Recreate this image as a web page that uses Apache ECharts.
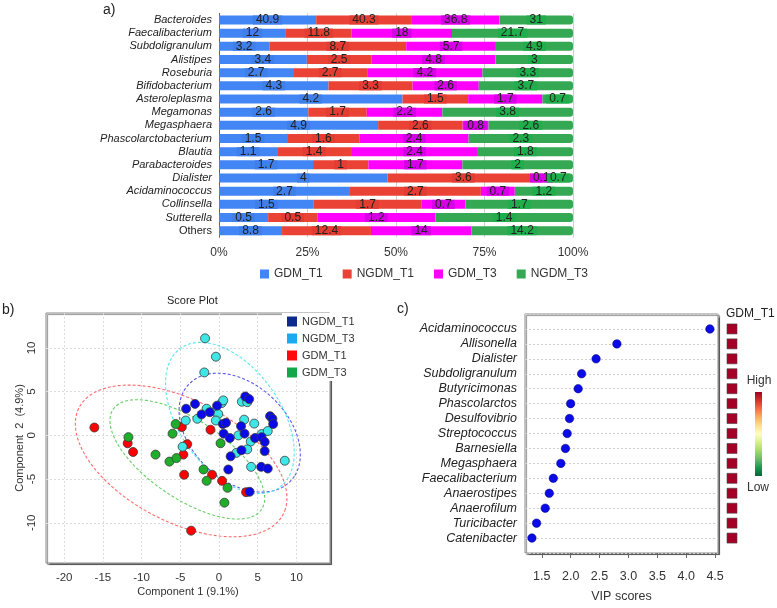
<!DOCTYPE html>
<html><head><meta charset="utf-8">
<script src="https://cdn.jsdelivr.net/npm/echarts@6/dist/echarts.min.js"></script>
<style>html,body{margin:0;padding:0;background:#fff}#c{width:777px;height:608px}</style>
</head><body><div id="c"></div>
<script>
// ---------- Panel a: relative abundance ----------
const genera = ['Bacteroides','Faecalibacterium','Subdoligranulum','Alistipes','Roseburia','Bifidobacterium','Asteroleplasma','Megamonas','Megasphaera','Phascolarctobacterium','Blautia','Parabacteroides','Dialister','Acidaminococcus','Collinsella','Sutterella','Others'];
const gdmT1  = [40.9, 12, 3.2, 3.4, 2.7, 4.3, 4.2, 2.6, 4.9, 1.5, 1.1, 1.7, 4, 2.7, 1.5, 0.5, 8.8];
const ngdmT1 = [40.3, 11.8, 8.7, 2.5, 2.7, 3.3, 1.5, 1.7, 2.6, 1.6, 1.4, 1, 3.6, 2.7, 1.7, 0.5, 12.4];
const gdmT3  = [36.8, 18, 5.7, 4.8, 4.2, 2.6, 1.7, 2.2, 0.8, 2.4, 2.4, 1.7, 0.1, 0.7, 0.7, 1.2, 14];
const ngdmT3 = [31, 21.7, 4.9, 3, 3.3, 3.7, 0.7, 3.8, 2.6, 2.3, 1.8, 2, 0.7, 1.2, 1.7, 1.4, 14.2];
const pctTicks = [0, 25, 50, 75, 100];

// ---------- Panel b: PLS-DA score plot ----------
const scoreNGDM_T1 = [[-4.25,3.05],[-3.1,3.6],[-2.25,2.4],[-1.2,2.65],[-0.25,3.4],[3.4,4.45],[3.9,4.15],[0.5,1.3],[0.9,1.45],[2.85,1.05],[6.6,2.2],[6.9,1.9],[7.0,1.3],[0.6,0.2],[1.4,-0.3],[3.3,0.2],[4.65,-0.3],[5.5,-0.2],[5.9,-0.75],[5.9,-1.8],[2.9,-1.7],[1.5,-2.4],[1.2,-3.9],[5.45,-3.6],[6.3,-3.8],[3.95,-6.45]];
const scoreNGDM_T3 = [[-1.8,11.1],[-0.4,9.0],[-1.9,7.2],[-1.6,3.05],[0.35,3.7],[0.55,4.0],[2.95,3.85],[3.65,3.8],[-0.5,2.7],[-0.1,2.45],[-2.8,1.9],[-4.3,1.7],[-0.4,1.7],[3.25,1.8],[4.55,1.35],[2.5,0.0],[5.5,0.15],[6.3,0.5],[4.1,-0.7],[3.65,-1.6],[2.25,-2.0],[-4.7,-1.3],[8.5,-2.9],[4.15,-3.6]];
const scoreGDM_T1 = [[-16.1,0.9],[-11.8,-0.9],[-11.1,-1.9],[-4.8,0.95],[-4.1,-1.0],[-4.6,-2.2],[-4.5,-4.5],[-1.1,0.65],[-0.9,-4.5],[0.4,-5.2],[3.5,-6.5],[-3.6,-10.9]];
const scoreGDM_T3 = [[-5.6,1.3],[-6.0,0.2],[-11.7,-0.2],[0.2,-0.9],[-8.2,-2.2],[-6.4,-3.0],[-5.5,-2.6],[-2.0,-3.9],[-1.6,-5.2],[1.1,-6.0],[0.7,-7.7]];
const comp1Ticks = [-20, -15, -10, -5, 0, 5, 10];
const comp2Ticks = [-10, -5, 0, 5, 10];

// ---------- Panel c: VIP scores ----------
const vipNames = ['Acidaminococcus','Allisonella','Dialister','Subdoligranulum','Butyricimonas','Phascolarctos','Desulfovibrio','Streptococcus','Barnesiella','Megasphaera','Faecalibacterium','Anaerostipes','Anaerofilum','Turicibacter','Catenibacter'];
const vipScores = [4.41, 2.80, 2.44, 2.19, 2.13, 2.00, 1.98, 1.94, 1.91, 1.83, 1.70, 1.63, 1.56, 1.41, 1.33];
const vipHeat = [1,1,1,1,1,1,1,1,1,1,1,1,1,1,1];
const vipTicks = [1.5, 2.0, 2.5, 3.0, 3.5, 4.0, 4.5];
const heatColors = ['#006837', '#1a9850', '#66bd63', '#a6d96a', '#d9ef8b', '#ffffbf', '#fee08b', '#fdae61', '#f46d43', '#d73027', '#a50026'];

const FONT = 'Liberation Sans, Arial, sans-serif';

// bars (100% stacked, labelled with raw values)
const totals = genera.map((_, i) => gdmT1[i] + ngdmT1[i] + gdmT3[i] + ngdmT3[i]);
const barGroups = [
  ['GDM_T1', gdmT1, '#4285f4', '#3f7fea'],
  ['NGDM_T1', ngdmT1, '#ea4335', '#e23c33'],
  ['GDM_T3', gdmT3, '#ff00ff', '#d600e6'],
  ['NGDM_T3', ngdmT3, '#34a853', '#1fae4b']
];
const series = [];
barGroups.forEach(([name, arr, col, bg], gi) => {
  series.push({
    type: 'bar', name, stack: 'abund', xAxisIndex: 0, yAxisIndex: 0, barWidth: 9,
    data: arr.map((v, i) => v / totals[i] * 100),
    itemStyle: { color: col, borderRadius: gi === 3 ? [0, 3, 3, 0] : 0 },
    label: { show: true, position: 'inside', formatter: p => String(arr[p.dataIndex]),
      color: '#222', fontSize: 12, fontFamily: FONT, backgroundColor: bg, padding: [0, 3], lineHeight: 9 }
  });
});

// ellipses (95% confidence, computed from group scores)
function ellipse(pts) {
  const n = pts.length;
  const mx = pts.reduce((s, p) => s + p[0], 0) / n;
  const my = pts.reduce((s, p) => s + p[1], 0) / n;
  let a = 0, b = 0, c = 0;
  pts.forEach(p => { const dx = p[0] - mx, dy = p[1] - my; a += dx * dx; b += dx * dy; c += dy * dy; });
  a /= (n - 1); b /= (n - 1); c /= (n - 1);
  const t = Math.sqrt(5.991464547);
  const m = (a + c) / 2, d = Math.sqrt(((a - c) / 2) ** 2 + b * b);
  const l1 = m + d, l2 = Math.max(m - d, 0);
  const th = 0.5 * Math.atan2(2 * b, a - c);
  const out = [];
  for (let k = 0; k <= 120; k++) {
    const ph = 2 * Math.PI * k / 120;
    const u = t * Math.sqrt(l1) * Math.cos(ph), v = t * Math.sqrt(l2) * Math.sin(ph);
    out.push([mx + u * Math.cos(th) - v * Math.sin(th), my + u * Math.sin(th) + v * Math.cos(th)]);
  }
  return out;
}
const scoreGroups = [
  ['NGDM_T1', scoreNGDM_T1, '#0a0ae6', '#5a5af0', '#0b2a8c'],
  ['NGDM_T3', scoreNGDM_T3, '#3ee6e6', '#55e8f0', '#1aaaf0'],
  ['GDM_T1', scoreGDM_T1, '#ff0000', '#ff6a6a', '#ff0a0a'],
  ['GDM_T3', scoreGDM_T3, '#1fae2a', '#66d066', '#12a84a']
];
scoreGroups.forEach(([name, pts, col, ecol], gi) => {
  series.push({
    type: 'line', name: 'ell' + gi, xAxisIndex: 1, yAxisIndex: 1, data: ellipse(pts),
    showSymbol: false, symbol: 'none', silent: true, z: 1,
    lineStyle: { color: ecol, width: 1.1, type: [3, 2] }
  });
});
[2, 3, 1, 0].forEach(gi => {
  const [name, pts, col] = scoreGroups[gi];
  series.push({
    type: 'scatter', name, xAxisIndex: 1, yAxisIndex: 1, data: pts, symbolSize: 9, z: 3,
    itemStyle: { color: col, borderColor: '#3a3a3a', borderWidth: 0.8, opacity: 1 }
  });
});

// VIP dots
const vipCats = [''].concat(vipNames, ['']);
series.push({
  type: 'scatter', name: 'VIP', xAxisIndex: 2, yAxisIndex: 2, symbolSize: 8.5,
  data: vipNames.map((n, i) => [vipScores[i], n]),
  itemStyle: { color: '#0b0be8', borderColor: '#00007a', borderWidth: 0.5, opacity: 1 }
});
series.push({
  type: 'scatter', name: 'heat', xAxisIndex: 3, yAxisIndex: 3, symbol: 'rect', symbolSize: 10,
  data: vipNames.map((n, i) => [0, n, vipHeat[i]]),
  itemStyle: { borderColor: '#444', borderWidth: 0.6, opacity: 1 }
});

const option = {
  animation: false,
  backgroundColor: '#fff',
  textStyle: { fontFamily: FONT },
  grid: [
    { left: 219, top: 13.4, width: 354, height: 223.9 },
    { left: 46, top: 313, width: 284, height: 250, show: true, backgroundColor: '#fff', borderColor: '#8a8a8a', borderWidth: 1,
      shadowColor: 'rgba(0,0,0,0.45)', shadowOffsetX: 1.5, shadowOffsetY: 1.5, shadowBlur: 1 },
    { left: 525, top: 314, width: 193, height: 239, show: true, backgroundColor: '#fff', borderColor: '#8a8a8a', borderWidth: 1,
      shadowColor: 'rgba(0,0,0,0.45)', shadowOffsetX: 1.5, shadowOffsetY: 1.5, shadowBlur: 1 },
    { left: 727, top: 314, width: 10, height: 239 }
  ],
  xAxis: [
    { gridIndex: 0, type: 'value', min: 0, max: 100, interval: 25,
      axisLabel: { formatter: v => pctTicks.includes(v) ? v + '%' : '', color: '#333', fontSize: 12, margin: 9 },
      axisLine: { show: false }, axisTick: { show: false },
      splitLine: { show: true, lineStyle: { color: '#cfcfcf', width: 1 } } },
    { gridIndex: 1, type: 'value', min: -22.35, max: 14.34,
      axisLabel: { customValues: comp1Ticks, color: '#333', fontSize: 11.5, margin: 9 },
      axisTick: { show: false, customValues: comp1Ticks }, axisLine: { show: false },
      splitLine: { show: true, lineStyle: { color: '#dcdcdc', type: [2, 2] } },
      name: 'Component 1 (9.1%)', nameLocation: 'middle', nameGap: 23,
      nameTextStyle: { fontSize: 11, color: '#333' } },
    { gridIndex: 2, type: 'value', min: 1.21, max: 4.55,
      axisLabel: { customValues: vipTicks, formatter: v => v.toFixed(1), color: '#333', fontSize: 12.5, margin: 17 },
      axisTick: { show: true, customValues: vipTicks, length: 5, lineStyle: { color: '#666' } },
      axisLine: { show: false }, splitLine: { show: false },
      name: 'VIP scores', nameLocation: 'middle', nameGap: 37,
      nameTextStyle: { fontSize: 12.5, color: '#333' } },
    { gridIndex: 3, type: 'value', min: -1, max: 1, show: false }
  ],
  yAxis: [
    { gridIndex: 0, type: 'category', data: genera, inverse: true,
      axisLine: { show: true, lineStyle: { color: '#666' } }, axisTick: { show: false },
      axisLabel: { interval: 0, margin: 7, formatter: v => v === 'Others' ? '{n|' + v + '}' : '{i|' + v + '}',
        rich: { i: { fontStyle: 'italic', fontSize: 11, color: '#222', fontFamily: FONT },
                n: { fontSize: 11, color: '#222', fontFamily: FONT } } } },
    { gridIndex: 1, type: 'value', min: -14.6, max: 14,
      axisLabel: { customValues: comp2Ticks, rotate: 90, color: '#333', fontSize: 11.5, margin: 8 },
      axisTick: { show: false, customValues: comp2Ticks }, axisLine: { show: false },
      splitLine: { show: true, lineStyle: { color: '#dcdcdc', type: [2, 2] } },
      name: 'Component  2  (4.9%)', nameLocation: 'middle', nameGap: 19, nameRotate: 90,
      nameTextStyle: { fontSize: 11, color: '#333' } },
    { gridIndex: 2, type: 'category', data: vipCats, inverse: true, boundaryGap: false,
      axisLine: { show: false }, axisTick: { show: false },
      axisLabel: { interval: 0, margin: 8, fontStyle: 'italic', fontSize: 12.5, color: '#222' },
      splitLine: { show: true, interval: 0, lineStyle: { color: '#cfcfcf', type: [2, 2] } } },
    { gridIndex: 3, type: 'category', data: vipCats, inverse: true, boundaryGap: false, show: false }
  ],
  legend: [
    { left: 255, top: 263, itemWidth: 9, itemHeight: 9, itemGap: 20, selectedMode: false,
      textStyle: { fontSize: 12, color: '#333' },
      data: barGroups.map(g => ({ name: g[0], icon: 'rect', itemStyle: { color: g[2], borderWidth: 0 } })) },
    { left: 282, top: 313, orient: 'vertical', itemWidth: 10, itemHeight: 10, itemGap: 6, selectedMode: false,
      backgroundColor: '#fff', padding: [3, 6, 3, 5],
      textStyle: { fontSize: 11, color: '#333' },
      data: scoreGroups.map(g => ({ name: g[0], icon: 'rect', itemStyle: { color: g[4], borderWidth: 0 } })) }
  ],
  visualMap: {
    type: 'continuous', show: false, seriesIndex: series.length - 1, dimension: 2, min: 0, max: 1,
    inRange: { color: heatColors }
  },
  graphic: [
    { type: 'text', left: 103, top: 3, style: { text: 'a)', fontSize: 14, fill: '#222', fontFamily: FONT } },
    { type: 'text', left: 2, top: 303, style: { text: 'b)', fontSize: 14, fill: '#222', fontFamily: FONT } },
    { type: 'text', left: 397, top: 302, style: { text: 'c)', fontSize: 14, fill: '#222', fontFamily: FONT } },
    { type: 'text', left: 167, top: 295, style: { text: 'Score Plot', fontSize: 11, fill: '#222', fontFamily: FONT } },
    { type: 'text', left: 726, top: 308, style: { text: 'GDM_T1', fontSize: 12, fill: '#222', fontFamily: FONT } },
    { type: 'text', x: 759, y: 381, style: { text: 'High', fontSize: 12, fill: '#333', fontFamily: FONT, align: 'center', verticalAlign: 'middle' } },
    { type: 'text', x: 758, y: 488, style: { text: 'Low', fontSize: 12, fill: '#333', fontFamily: FONT, align: 'center', verticalAlign: 'middle' } },
    { type: 'rect', shape: { x: 755, y: 392, width: 7, height: 84 },
      style: { fill: new echarts.graphic.LinearGradient(0, 1, 0, 0,
        heatColors.map((c, i) => ({ offset: i / (heatColors.length - 1), color: c }))) } }
  ],
  series
};
const chart = echarts.init(document.getElementById('c'), null, { renderer: 'canvas' });
chart.setOption(option);
</script></body></html>
